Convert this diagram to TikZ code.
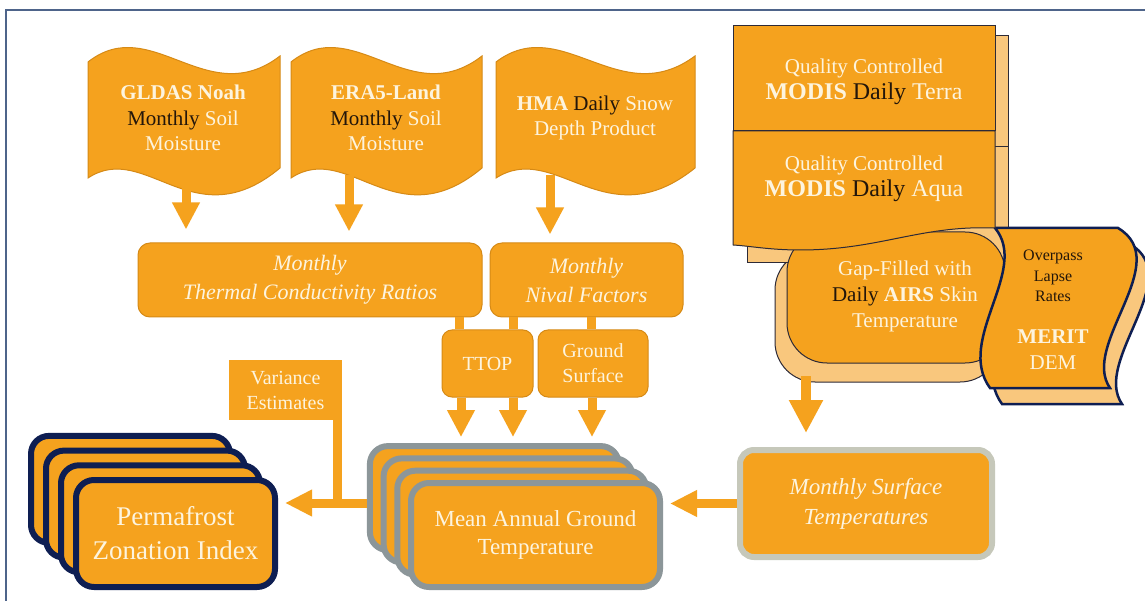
\documentclass[tikz,border=0pt]{standalone}
\usepackage{fontspec}
\setmainfont{LiberationSerif}[Extension=.ttf, UprightFont=*-Regular, BoldFont=*-Bold, ItalicFont=*-Italic, BoldItalicFont=*-BoldItalic]
\usetikzlibrary{arrows.meta,calc}
\definecolor{org}{RGB}{245,162,30}
\definecolor{orgd}{RGB}{214,138,22}
\definecolor{lorg}{RGB}{249,199,125}
\definecolor{cream}{RGB}{253,244,222}
\definecolor{ink}{RGB}{35,22,10}
\definecolor{navy}{RGB}{14,30,82}
\definecolor{dline}{RGB}{45,42,55}
\definecolor{mgray}{RGB}{140,150,153}
\definecolor{sgray}{RGB}{198,200,186}
\definecolor{framec}{RGB}{78,100,138}
\begin{document}
\begin{tikzpicture}[x=1pt,y=-1pt,
  txt/.style={text=cream, align=center, inner sep=0pt, font=\fontsize{21}{25.5}\selectfont},
  obox/.style={draw=orgd, line width=1pt, fill=org, rounded corners=12pt, text=cream, align=center, inner sep=0pt},
  arr/.style={draw=org, line width=9pt, -{Triangle[length=27pt,width=26pt]}},
  stem/.style={draw=org, line width=9pt},
  magtcard/.style={draw=mgray, line width=6pt, fill=org, rounded corners=18pt, minimum width=249pt, minimum height=104pt, text=cream, align=center, inner sep=0pt},
  pfcard/.style={draw=navy, line width=6pt, fill=org, rounded corners=18pt, minimum width=199pt, minimum height=107pt, text=cream, align=center, inner sep=0pt}
]
\fill[white] (0,0) rectangle (1145,601);
\useasboundingbox (0,0) rectangle (1145,601);
\draw[framec, line width=2pt] (6,601) -- (6,10) -- (1145,10);

% wavy source shapes
\foreach \L/\R in {88/280, 291/482, 496/695}{
  \pgfmathsetmacro\w{\R-\L}
  \draw[fill=org, draw=orgd, line width=1pt]
    (\L,62) .. controls ({\L+0.33*\w},12) and ({\L+0.62*\w},112) .. (\R,56)
    -- (\R,168) .. controls ({\L+0.55*\w},240) and ({\L+0.3*\w},140) .. (\L,178) -- cycle;
}
\node[txt] (w1) at (183,118) {\textbf{GLDAS Noah}\\\textcolor{ink}{Monthly} Soil\\Moisture};
\node[txt] (w2) at (386,118) {\textbf{ERA5-Land}\\\textcolor{ink}{Monthly} Soil\\Moisture};
\node[txt] (w3) at (595,118) {\textbf{HMA} \textcolor{ink}{Daily} Snow\\Depth Product};

% middle boxes
\node[obox, minimum width=344pt, minimum height=74pt, font=\fontsize{22}{29}\selectfont\itshape] (therm) at (310,280) {Monthly\\Thermal Conductivity Ratios};
\node[obox, minimum width=193pt, minimum height=74pt, font=\fontsize{22}{29}\selectfont\itshape] (nival) at (586.5,280) {Monthly\\Nival Factors};
\node[obox, rounded corners=10pt, minimum width=91pt, minimum height=67pt, font=\fontsize{20}{25}\selectfont] (ttop) at (487.5,363.5) {TTOP};
\node[obox, rounded corners=10pt, minimum width=110pt, minimum height=67pt, font=\fontsize{20}{25}\selectfont] (gs) at (593,363.5) {Ground\\Surface};
\node[fill=org, minimum width=113pt, minimum height=60pt, text=cream, align=center, inner sep=0pt, font=\fontsize{20}{25}\selectfont] (var) at (285.5,390) {Variance\\Estimates};

% arrows from sources
\coordinate (w1a) at (186,185);
\coordinate (w2a) at (349,175);
\coordinate (w3a) at (550,175);
\draw[arr, shorten >=13pt] (w1a) -- (w1a |- therm.north);
\draw[arr, shorten >=11pt] (w2a) -- (w2a |- therm.north);
\draw[arr, shorten >=8pt] (w3a) -- (w3a |- nival.north);

% stems
\draw[stem] (therm.south -| 459,0) -- (ttop.north -| 459,0);
\draw[stem] (nival.south -| 513,0) -- (ttop.north -| 513,0);
\draw[stem] (nival.south -| 591,0) -- (gs.north -| 591,0);

% MAGT stack
\foreach \k in {0,1,2}{
  \node[magtcard] (magt\k) at ({494.4+13.7*\k},{498.1+12.3*\k}) {};
}
\node[magtcard, font=\fontsize{23}{28}\selectfont] (magt3) at (535.5,535) {Mean Annual Ground\\Temperature};

% Permafrost stack
\foreach \k in {0,1,2}{
  \node[pfcard] (pf\k) at ({130.5+15*\k},{489.4+14.7*\k}) {};
}
\node[pfcard, font=\fontsize{27}{34}\selectfont] (pf3) at (175.5,533.5) {Permafrost\\Zonation Index};

% Monthly surface temperatures
\node[draw=sgray, line width=6pt, fill=org, rounded corners=14pt, minimum width=252pt, minimum height=107pt, text=cream, align=center, inner sep=0pt, font=\fontsize{23}{30}\selectfont\itshape] (msurf) at (866,503.5) {Monthly Surface\\Temperatures};

% arrows into MAGT
\draw[arr, shorten >=6pt] (ttop.south -| 461,0) -- (magt0.north -| 461,0);
\draw[arr, shorten >=6pt] (ttop.south -| 513,0) -- (magt0.north -| 513,0);
\draw[arr, shorten >=6pt] (gs.south -| 592,0) -- (magt0.north -| 592,0);
\draw[draw=org, line width=9pt, -{Triangle[length=27pt,width=25pt]}, shorten >=7pt] (msurf.west) -- (magt3.east |- msurf.west);

% MAGT -> Permafrost with variance stem
\coordinate (vs) at ([xshift=-4.5pt]var.south east);
\draw[stem] (vs) -- (vs |- 0,507);
\draw[draw=org, line width=9pt, -{Triangle[length=27pt,width=25pt]}, shorten >=7pt] (magt0.west |- 0,503) -- (pf3.east |- 0,503);

% right cluster
\draw[fill=lorg, draw=dline, line width=1pt, rounded corners=40pt] (775,250) rectangle (1000,382);
\draw[fill=lorg, draw=dline, line width=1pt] (747,36) rectangle (1008,263);
\draw[dline, line width=1pt] (995,147) -- (1008,147);
\draw[fill=org, draw=dline, line width=1pt, rounded corners=40pt] (787,232) rectangle (1005,363);
\draw[fill=lorg, draw=navy, line width=2.5pt, shift={(12,16)}]
  (995,228) -- (1118,228) .. controls (1175,262) and (1080,345) .. (1110,388)
  -- (990,388) .. controls (955,340) and (1030,270) .. (995,228) -- cycle;
\draw[fill=org, draw=navy, line width=2.5pt]
  (995,228) -- (1118,228) .. controls (1175,262) and (1080,345) .. (1110,388)
  -- (990,388) .. controls (955,340) and (1030,270) .. (995,228) -- cycle;
\draw[fill=org, draw=dline, line width=1pt]
  (733,131) -- (995,131) -- (995,228) .. controls (920,225) and (880,250) .. (800,250)
  .. controls (770,250) and (750,246) .. (733,245) -- cycle;
\node[draw=dline, line width=1pt, fill=org, minimum width=262pt, minimum height=105pt, inner sep=0pt] (terra) at (864,78.5) {};
\node[txt] (terratxt) at (864,82) {Quality Controlled\\{\fontsize{24}{28}\selectfont\textbf{MODIS} \textcolor{ink}{Daily} Terra}};
\node[txt] (aqua) at (864,179) {Quality Controlled\\{\fontsize{24}{28}\selectfont\textbf{MODIS} \textcolor{ink}{Daily} Aqua}};
\node[txt, font=\fontsize{21}{26}\selectfont] (gap) at (905,296) {Gap-Filled with\\\textcolor{ink}{Daily} \textbf{AIRS} Skin\\Temperature};
\node[txt, text=ink, font=\fontsize{16}{20.5}\selectfont] (mer1) at (1053,276) {Overpass\\Lapse\\Rates};
\node[txt, font=\fontsize{21}{26}\selectfont] (mer2) at (1053,350) {\textbf{MERIT}\\DEM};

\coordinate (ga) at (806,376);
\draw[draw=org, line width=10pt, -{Triangle[length=33pt,width=32pt]}, shorten >=14pt] (ga) -- (ga |- msurf.north);
\end{tikzpicture}
\end{document}
